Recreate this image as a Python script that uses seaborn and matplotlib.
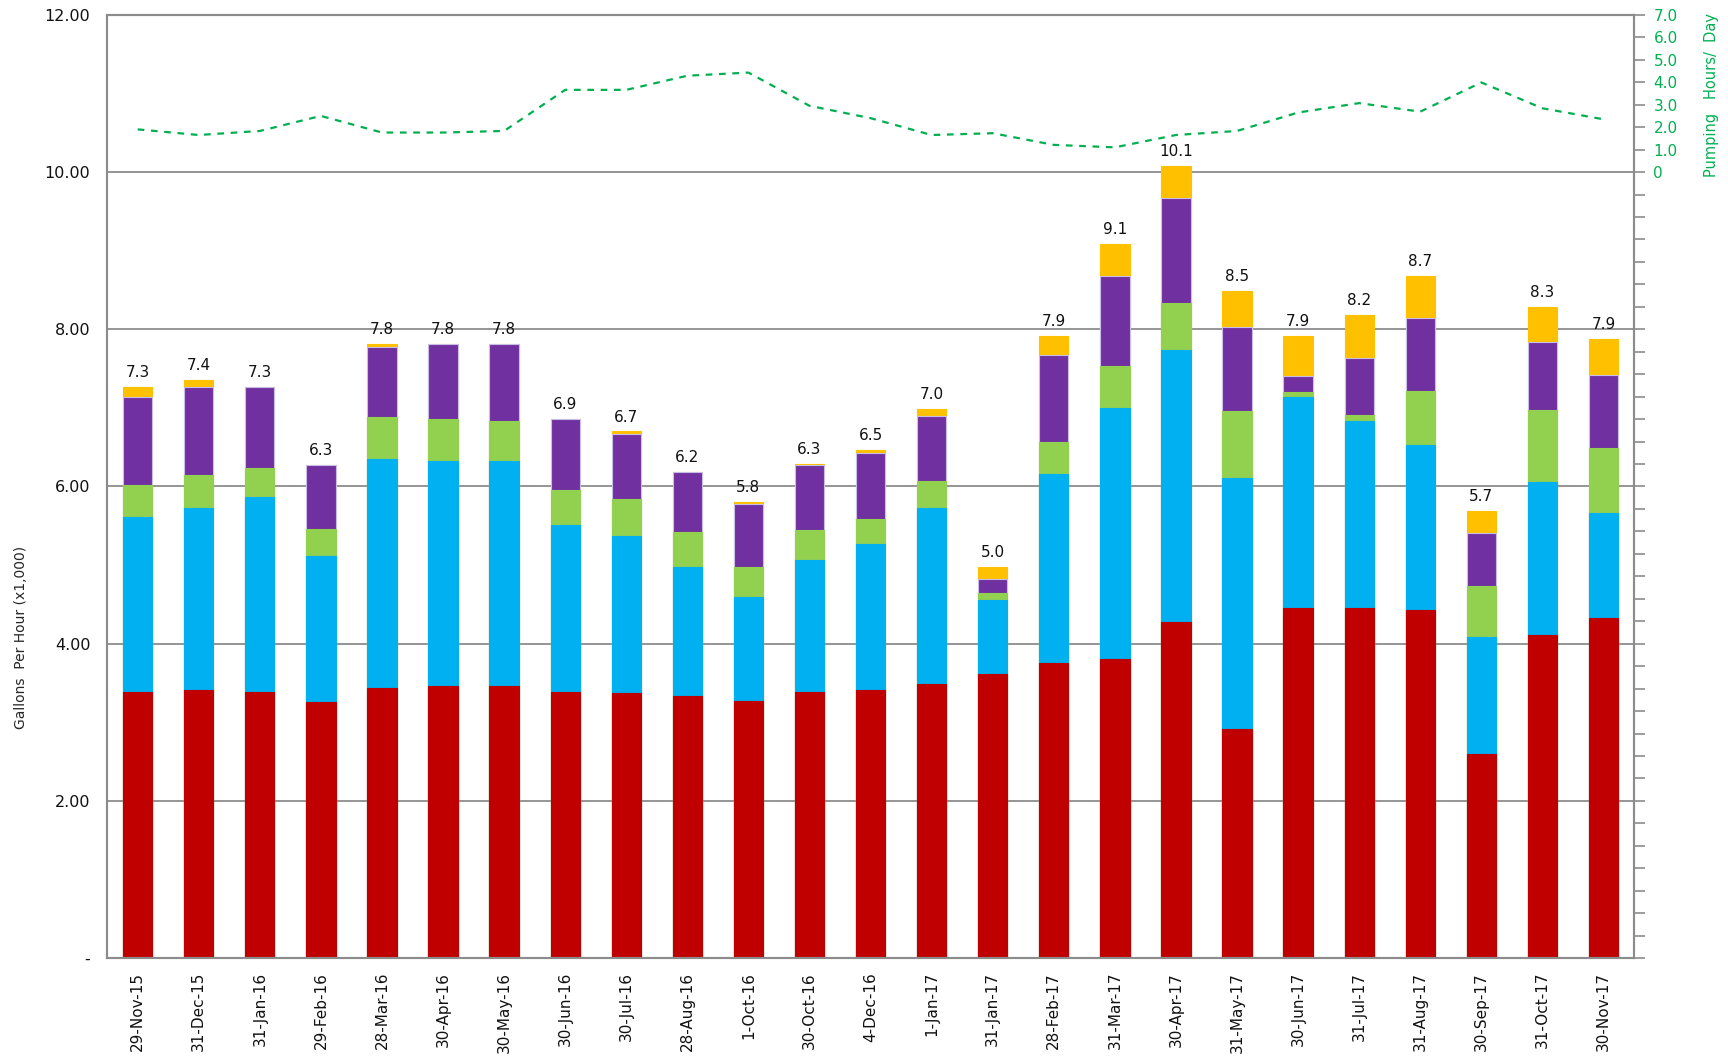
"""Gallons per hour stacked bars with pumping hours line"""
import numpy as np
import matplotlib
matplotlib.use("Agg")
import matplotlib.pyplot as plt
import seaborn as sns

dates = ["29-Nov-15", "31-Dec-15", "31-Jan-16", "29-Feb-16", "28-Mar-16",
         "30-Apr-16", "30-May-16", "30-Jun-16", "30-Jul-16", "28-Aug-16",
         "1-Oct-16", "30-Oct-16", "4-Dec-16", "1-Jan-17", "31-Jan-17",
         "28-Feb-17", "31-Mar-17", "30-Apr-17", "31-May-17", "30-Jun-17",
         "31-Jul-17", "31-Aug-17", "30-Sep-17", "31-Oct-17", "30-Nov-17"]

red = [3.38, 3.41, 3.38, 3.26, 3.44, 3.46, 3.46, 3.38, 3.37, 3.34, 3.27, 3.39, 3.41,
       3.49, 3.61, 3.76, 3.81, 4.28, 2.92, 4.45, 4.45, 4.43, 2.60, 4.11, 4.33]
blue = [2.23, 2.32, 2.48, 1.86, 2.91, 2.87, 2.87, 2.13, 2.00, 1.63, 1.33, 1.68, 1.86,
        2.24, 0.95, 2.40, 3.19, 3.45, 3.19, 2.69, 2.38, 2.10, 1.49, 1.95, 1.33]
green = [0.41, 0.41, 0.38, 0.34, 0.54, 0.53, 0.50, 0.45, 0.47, 0.45, 0.37, 0.37, 0.32,
         0.34, 0.09, 0.40, 0.53, 0.61, 0.85, 0.06, 0.08, 0.69, 0.64, 0.91, 0.83]
purple = [1.12, 1.13, 1.03, 0.81, 0.88, 0.95, 0.98, 0.90, 0.83, 0.77, 0.81, 0.83, 0.84,
          0.83, 0.17, 1.11, 1.15, 1.33, 1.07, 0.20, 0.72, 0.92, 0.68, 0.87, 0.93]
orange = [0.12, 0.08, 0.00, 0.00, 0.04, 0.00, 0.00, 0.00, 0.03, 0.00, 0.02, 0.02, 0.04,
          0.08, 0.15, 0.24, 0.40, 0.41, 0.46, 0.51, 0.55, 0.54, 0.28, 0.44, 0.46]

total_labels = [7.3, 7.4, 7.3, 6.3, 7.8, 7.8, 7.8, 6.9, 6.7, 6.2, 5.8, 6.3, 6.5,
                7.0, 5.0, 7.9, 9.1, 10.1, 8.5, 7.9, 8.2, 8.7, 5.7, 8.3, 7.9]

pump_hours = [1.90, 1.65, 1.83, 2.50, 1.76, 1.76, 1.83, 3.66, 3.66, 4.29, 4.43, 2.95, 2.40,
              1.65, 1.73, 1.21, 1.10, 1.65, 1.83, 2.65, 3.07, 2.69, 3.99, 2.84, 2.35]

COLORS = ["#C00000", "#00B0F0", "#92D050", "#7030A0", "#FFC000"]
GREEN_LINE = "#00B050"
GRID = "#8c8c8c"

sns.set_style("white")
plt.rcParams["font.family"] = ["DejaVu Sans"]

fig = plt.figure(figsize=(17.28, 10.61), dpi=100)
ax = fig.add_axes([0.062, 0.097, 0.8836, 0.889])

# stacked: draw cumulative sums from top layer down
layers = [red, blue, green, purple, orange]
cums = np.cumsum(np.array(layers), axis=0)
for i in range(len(layers) - 1, -1, -1):
    edge = "#c9bfe6" if i == 3 else COLORS[i]
    sns.barplot(x=dates, y=cums[i], color=COLORS[i], saturation=1, width=0.48,
                edgecolor=edge, linewidth=0.8, ax=ax)

for i, lab in enumerate(total_labels):
    ax.annotate(f"{lab:.1f}", (i, cums[-1][i]), xytext=(0, 5), textcoords="offset points",
                ha="center", va="bottom", fontsize=11, color="#111111")

ax.set_ylim(0, 12)
ax.set_xlim(-0.5, len(dates) - 0.5)
ax.set_yticks(np.arange(0, 13, 2))
ax.set_yticklabels(["-"] + [f"{v:.2f}" for v in np.arange(2, 13, 2)])
ax.yaxis.grid(True, color=GRID, linewidth=1.3)
ax.set_axisbelow(True)
ax.tick_params(axis="y", length=0, pad=12, labelsize=11.5, colors="#111111")
ax.tick_params(axis="x", length=0, pad=10, labelsize=11, labelrotation=90)
for lbl in ax.get_xticklabels():
    lbl.set_color("#111111")
ax.set_xlabel("")
ax.set_ylabel("Gallons  Per Hour (x1,000)", fontsize=10)
ax.yaxis.set_label_coords(-0.052, 0.34)
for sp in ax.spines.values():
    sp.set_color(GRID)
    sp.set_linewidth(1.5)

# pumping hours on secondary axis
ax2 = ax.twinx()
sns.lineplot(x=np.arange(len(dates)), y=pump_hours, ax=ax2, color=GREEN_LINE,
             linewidth=1.6, linestyle=(0, (3, 3)))
ax2.set_ylim(-35, 7)
ax2.set_yticks(np.arange(-35, 8, 1))
ax2.set_yticklabels(["" if v < 0 else ("0" if v == 0 else f"{v:.1f}")
                     for v in np.arange(-35, 8, 1)])
ax2.tick_params(axis="y", length=8, width=1.2, color=GRID, pad=6,
                labelsize=11, labelcolor=GREEN_LINE)
ax2.set_ylabel("Pumping   Hours/  Day", color=GREEN_LINE, fontsize=10.5)
ax2.yaxis.set_label_coords(1.046, 0.915)
for sp in ax2.spines.values():
    sp.set_color(GRID)
    sp.set_linewidth(1.5)

fig.savefig("out.png", dpi=100)
plt.close(fig)
